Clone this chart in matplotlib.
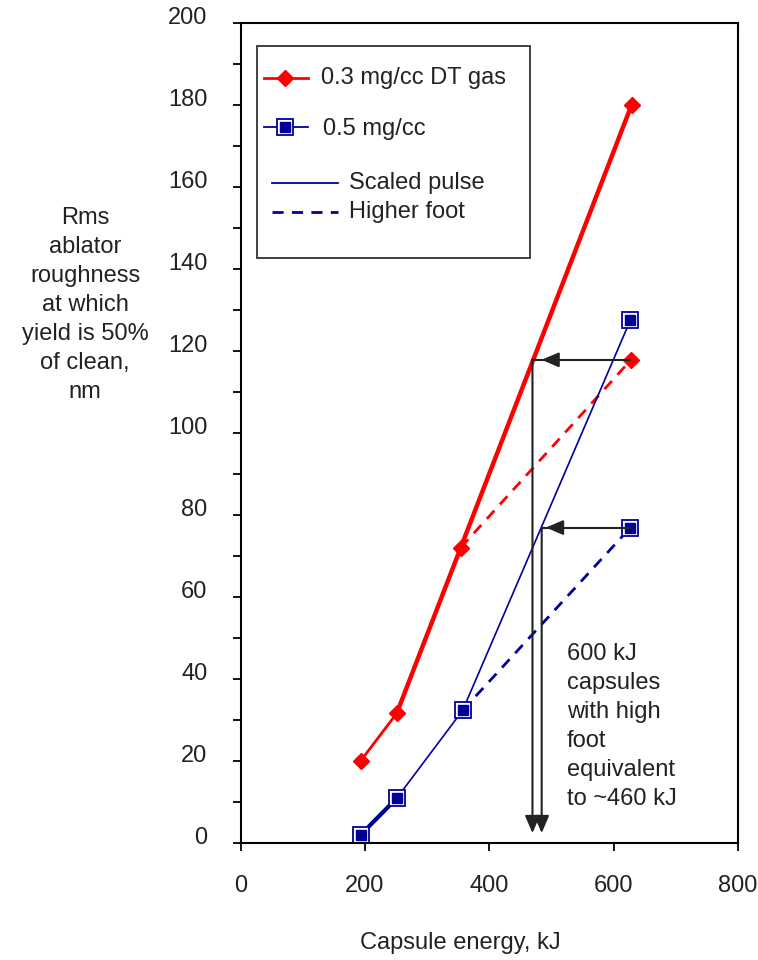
import matplotlib
matplotlib.use("Agg")
import matplotlib.pyplot as plt
import matplotlib.transforms as mtransforms
from matplotlib.lines import Line2D

plt.rcParams['font.family'] = ['Liberation Sans', 'DejaVu Sans']

# capsule energy (kJ) and rms roughness (nm)
red_energy = [193, 251, 354, 629]
red_rough = [20, 31.6, 72, 180]
red_foot_energy = [354, 628]
red_foot_rough = [72, 117.8]

blue_energy = [193, 251, 357, 627]
blue_rough = [2, 10.9, 32.3, 127.5]
blue_foot_energy = [357, 627]
blue_foot_rough = [32.3, 76.9]

# arrows: level, vertical line x, arrowhead tip x
arrow_levels = [117.8, 76.9]
arrow_drop_x = [469.4, 484.2]
arrow_tip_x = [484, 491]
arrow_start_x = 627
arrow_end_y = 2.4

RED = '#ff0000'
NAVY = '#000099'
ARROW = '#222222'

fig = plt.figure(figsize=(7.58, 9.6), dpi=100)
ax = fig.add_axes([0.3175, 0.1219, 0.6561, 0.8545])

# red, 0.3 mg/cc
ax.plot(red_energy[:2], red_rough[:2], color=RED, lw=2)
ax.plot(red_energy[1:], red_rough[1:], color=RED, lw=3.2)
ax.plot(red_foot_energy, red_foot_rough, color=RED, lw=2, ls=(0, (4, 3)))
ax.plot(red_energy, red_rough, ls='none', marker='D', ms=8, color=RED)
ax.plot(red_foot_energy[1:], red_foot_rough[1:], ls='none', marker='D', ms=8, color=RED)

# blue, 0.5 mg/cc
ax.plot(blue_energy[:2], blue_rough[:2], color=NAVY, lw=3)
ax.plot(blue_energy[1:], blue_rough[1:], color=NAVY, lw=1.2)
ax.plot(blue_foot_energy, blue_foot_rough, color=NAVY, lw=2, ls=(0, (4, 3)))
bx = blue_energy + blue_foot_energy[1:]
by = blue_rough + blue_foot_rough[1:]
ax.plot(bx, by, ls='none', marker='s', ms=11, mfc='white', mec=NAVY, mew=1.3)
ax.plot(bx, by, ls='none', marker='s', ms=6.5, mfc=NAVY, mec=NAVY)

# arrows
for lev, dx, tx in zip(arrow_levels, arrow_drop_x, arrow_tip_x):
    ax.plot([dx, arrow_start_x], [lev, lev], color=ARROW, lw=1.5)
    ax.annotate('', xy=(tx, lev), xytext=(tx + 20, lev),
                arrowprops=dict(arrowstyle='-|>,head_length=0.7,head_width=0.3',
                                mutation_scale=15, color=ARROW, lw=1.5,
                                shrinkA=0, shrinkB=0))
    ax.annotate('', xy=(dx, arrow_end_y), xytext=(dx, lev),
                arrowprops=dict(arrowstyle='-|>,head_length=0.7,head_width=0.3',
                                mutation_scale=15, color=ARROW, lw=1.5,
                                shrinkA=0, shrinkB=0))

ax.text(525, 28.4, '600 kJ\ncapsules\nwith high\nfoot\nequivalent\nto ~460 kJ',
        fontsize=17, ha='left', va='center', linespacing=1.41, color='#222222')

# axes
ax.set_xlim(0, 800)
ax.set_ylim(0, 200)
ax.set_xticks([0, 200, 400, 600, 800])
ax.set_yticks(range(0, 201, 20))
ax.set_yticks(range(0, 201, 10), minor=True)
ax.tick_params(which='both', direction='out', length=6, width=1.3, labelsize=17,
               colors='black', labelcolor='#222222')
ax.tick_params(axis='y', pad=18)
ax.tick_params(axis='x', pad=17)
for s in ax.spines.values():
    s.set_linewidth(1.5)
shift = mtransforms.ScaledTranslation(0, 7 / 100, fig.dpi_scale_trans)
for lab in ax.get_yticklabels():
    lab.set_transform(lab.get_transform() + shift)

# legend box drawn by hand
T = ax.transAxes
ax.add_patch(plt.Rectangle((0.032, 0.713), 0.55, 0.258, transform=T,
                           fill=False, ec='#333333', lw=1.3))
ax.add_line(Line2D([0.046, 0.135], [0.932, 0.932], transform=T, color=RED, lw=2))
ax.add_line(Line2D([0.090], [0.932], transform=T, color=RED, marker='D', ms=8))
ax.text(0.161, 0.932, '0.3 mg/cc DT gas', transform=T, fontsize=17, va='center', color='#222222')
ax.add_line(Line2D([0.046, 0.135], [0.873, 0.873], transform=T, color=NAVY, lw=1.3))
ax.add_line(Line2D([0.090], [0.873], transform=T, ls='none', marker='s', ms=11,
                   mfc='white', mec=NAVY, mew=1.3))
ax.add_line(Line2D([0.090], [0.873], transform=T, ls='none', marker='s', ms=6.5,
                   mfc=NAVY, mec=NAVY))
ax.text(0.165, 0.870, '0.5 mg/cc', transform=T, fontsize=17, va='center', color='#222222')
ax.add_line(Line2D([0.064, 0.195], [0.804, 0.804], transform=T, color=NAVY, lw=1.3))
ax.text(0.217, 0.804, 'Scaled pulse', transform=T, fontsize=17, va='center', color='#222222')
ax.add_line(Line2D([0.064, 0.195], [0.769, 0.769], transform=T, color=NAVY, lw=2, ls=(0, (4, 3))))
ax.text(0.217, 0.769, 'Higher foot', transform=T, fontsize=17, va='center', color='#222222')

fig.text(85 / 758, 1 - 305 / 960,
         'Rms\nablator\nroughness\nat which\nyield is 50%\nof clean,\nnm',
         ha='center', va='center', fontsize=17, linespacing=1.41, color='#222222')
fig.text(460 / 758, 1 - 943 / 960, 'Capsule energy, kJ', ha='center', va='center',
         fontsize=17, color='#222222')

fig.savefig('out.png', dpi=100)
